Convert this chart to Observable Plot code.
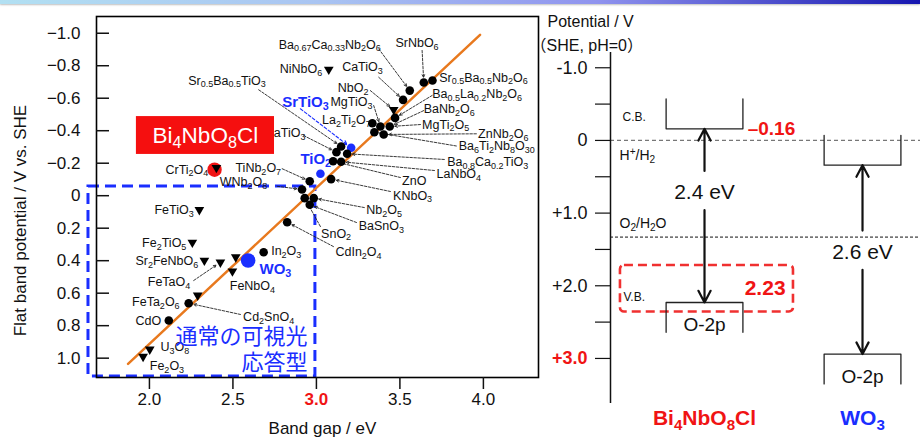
<!DOCTYPE html>
<html>
<head>
<meta charset="utf-8">
<script src="https://cdn.jsdelivr.net/npm/d3@7"></script>
<script src="https://cdn.jsdelivr.net/npm/@observablehq/plot@0.6"></script>
<style>
  body { margin: 0; background: #fff; }
  #wrap { position: relative; width: 920px; height: 441px; overflow: hidden; background: #fff; }
  #band { position: absolute; left: 0; top: 0; width: 920px; height: 4px; z-index: 5;
          background: linear-gradient(to right, #b2e0f2 0%, #a9c4f2 35%, #8f93ee 65%, #1616b0 100%);
          box-shadow: 0 1px 2px rgba(0,0,0,0.25); }
  #left { position: absolute; left: 0; top: 0; }
  #right { position: absolute; left: 520px; top: 0; }
  svg { overflow: visible; }
</style>
</head>
<body>
<div id="wrap">
  <div id="band"></div>
  <div id="left"></div>
  <div id="right"></div>
</div>
<script>
const FONT = "Arial, 'Liberation Sans', Helvetica, 'Noto Sans CJK JP', sans-serif";
const BLUE = "#1a2eff";
const RED = "#f01414";

// ---- Left panel: flat band potential (V vs. SHE) vs. band gap (eV) ----
// [name, band gap / eV, flat band potential / V]
const circles = [
  ["Ba0.67Ca0.33Nb2O6", 3.559, -0.647],
  ["SrNbO6", 3.643, -0.697],
  ["Sr0.5Ba0.5Nb2O6", 3.695, -0.709],
  ["CaTiO3", 3.519, -0.590],
  ["Ba0.5La0.2Nb2O6", 3.471, -0.479],
  ["La2Ti2O7", 3.335, -0.446],
  ["MgTiO3", 3.383, -0.426],
  ["MgTi2O5", 3.439, -0.426],
  ["Ba6Ti2Nb8O30", 3.347, -0.391],
  ["ZnNb2O6", 3.403, -0.377],
  ["Sr0.5Ba0.5TiO3", 3.148, -0.303],
  ["BaTiO3", 3.120, -0.268],
  ["Ba0.8Ca0.2TiO3", 3.184, -0.258],
  ["ZnO", 3.100, -0.212],
  ["LaNbO4", 3.148, -0.209],
  ["KNbO3", 3.088, -0.102],
  ["TiNb2O7", 2.960, -0.089],
  ["WNb2O8", 2.914, -0.038],
  ["SnO2", 2.930, 0.015],
  ["Nb2O5", 2.984, 0.015],
  ["BaSnO3", 2.960, 0.056],
  ["CdIn2O4", 2.825, 0.163],
  ["In2O3", 2.684, 0.348],
  ["Cd2SnO4", 2.235, 0.662],
  ["CdO", 2.116, 0.768]
];
const triangles = [
  ["NiNbO6", 3.074, -0.777],
  ["NbO2", 3.463, -0.529],
  ["CrTi2O4", 2.401, -0.172],
  ["FeTiO3", 2.299, 0.087],
  ["Fe2TiO5", 2.257, 0.288],
  ["Sr2FeNbO6", 2.329, 0.399],
  ["FeTaO4", 2.425, 0.410],
  ["", 2.517, 0.378],
  ["FeNbO4", 2.497, 0.465],
  ["FeTa2O6", 2.289, 0.613],
  ["U3O8", 2.002, 0.946],
  ["Fe2O3", 1.962, 0.990]
];
// [name, band gap, flat band potential, colour, radius]
const highlights = [
  ["SrTiO3", 3.208, -0.295, BLUE, 4.3],
  ["TiO2", 3.024, -0.135, BLUE, 4.3],
  ["WO3", 2.591, 0.399, BLUE, 7.3],
  ["Bi4NbO8Cl", 2.39, -0.16, RED, 7.2]
];
// linear trend of flat band potential against band gap
const trendGap = [1.872, 3.98];
const trendFlat = [1.035, -0.99];

// label text, label anchor (gap, potential)
const labels = [
  ["Ba_{0.67}Ca_{0.33}Nb_{2}O_{6}", 2.774, -0.930],
  ["SrNbO_{6}", 3.473, -0.938],
  ["Sr_{0.5}Ba_{0.5}Nb_{2}O_{6}", 3.735, -0.726],
  ["NiNbO_{6}", 2.780, -0.777],
  ["CaTiO_{3}", 3.154, -0.791],
  ["NbO_{2}", 3.128, -0.662],
  ["Ba_{0.5}La_{0.2}Nb_{2}O_{6}", 3.693, -0.627],
  ["BaNb_{2}O_{6}", 3.643, -0.535],
  ["MgTiO_{3}", 3.084, -0.575],
  ["La_{2}Ti_{2}O_{7}", 3.034, -0.463],
  ["MgTi_{2}O_{5}", 3.633, -0.438],
  ["ZnNb_{2}O_{6}", 3.968, -0.381],
  ["Ba_{6}Ti_{2}Nb_{8}O_{30}", 3.852, -0.306],
  ["Ba_{0.8}Ca_{0.2}TiO_{3}", 3.783, -0.206],
  ["LaNbO_{4}", 3.719, -0.135],
  ["ZnO", 3.513, -0.089],
  ["KNbO_{3}", 3.459, -0.001],
  ["Nb_{2}O_{5}", 3.299, 0.090],
  ["BaSnO_{3}", 3.253, 0.189],
  ["SnO_{2}", 3.028, 0.234],
  ["CdIn_{2}O_{4}", 3.114, 0.348],
  ["In_{2}O_{3}", 2.729, 0.341],
  ["TiNb_{2}O_{7}", 2.515, -0.172],
  ["WNb_{2}O_{8}", 2.421, -0.084],
  ["CrTi_{2}O_{4}", 2.096, -0.161],
  ["BaTiO_{3}", 2.695, -0.385],
  ["Sr_{0.5}Ba_{0.5}TiO_{3}", 2.232, -0.709],
  ["FeTiO_{3}", 2.030, 0.090],
  ["Fe_{2}TiO_{5}", 1.956, 0.292],
  ["Sr_{2}FeNbO_{6}", 1.916, 0.402],
  ["FeTaO_{4}", 1.990, 0.532],
  ["FeNbO_{4}", 2.481, 0.558],
  ["FeTa_{2}O_{6}", 1.896, 0.655],
  ["Cd_{2}SnO_{4}", 2.561, 0.748],
  ["CdO", 1.916, 0.772],
  ["U_{3}O_{8}", 2.066, 0.932],
  ["Fe_{2}O_{3}", 2.002, 1.051]
];
const blueLabels = [
  ["SrTiO_{3}", 2.795, -0.575],
  ["TiO_{2}", 2.904, -0.227],
  ["WO_{3}", 2.659, 0.450]
];
// leader start (gap, potential) and the compound it points at
const leaders = [
  [3.373, -0.904, "Ba0.67Ca0.33Nb2O6"],
  [3.633, -0.894, "SrNbO6"],
  [3.373, -0.729, "CaTiO3"],
  [3.323, -0.647, "NbO2"],
  [3.693, -0.617, "Ba0.5La0.2Nb2O6"],
  [3.643, -0.524, "MgTi2O5"],
  [3.343, -0.555, "MgTiO3"],
  [3.623, -0.438, "MgTi2O5"],
  [3.958, -0.381, "ZnNb2O6"],
  [3.838, -0.306, "Ba6Ti2Nb8O30"],
  [3.766, -0.223, "Ba0.8Ca0.2TiO3"],
  [3.707, -0.155, "LaNbO4"],
  [3.503, -0.112, "ZnO"],
  [3.443, -0.026, "KNbO3"],
  [3.287, 0.073, "Nb2O5"],
  [3.240, 0.165, "BaSnO3"],
  [3.024, 0.190, "SnO2"],
  [3.102, 0.313, "CdIn2O4"],
  [2.795, -0.166, "TiNb2O7"],
  [2.765, -0.058, "WNb2O8"],
  [2.924, -0.370, "BaTiO3"],
  [2.654, -0.652, "Sr0.5Ba0.5TiO3"],
  [2.265, 0.522, "FeTaO4"],
  [2.545, 0.731, "Cd2SnO4"]
];
const blueLeaders = [[2.904, -0.535, "SrTiO3"]];

const xTicks = [2.0, 2.5, 3.0, 3.5, 4.0];
const yTicks = [-1.0, -0.8, -0.6, -0.4, -0.2, 0, 0.2, 0.4, 0.6, 0.8, 1.0];

// visible-light region box and highlighted compound tag
const visibleBox = [{x1: 1.635, x2: 2.994, y1: -0.057, y2: 1.113}];
const tagBox = [{x1: 1.922, x2: 2.749, y1: -0.487, y2: -0.254}];
const tagText = [{t: "Bi_{4}NbO_{8}Cl", x: 2.335, y: -0.370}];
const regionText = [{t: "通常の可視光\n応答型", x: 2.946, y: 0.942}];

const pointIndex = new Map([...circles, ...triangles, ...highlights].map(d => [d[0], d]));
const toLeader = ([x, y, name]) => ({x1: x, y1: y, x2: pointIndex.get(name)[1], y2: pointIndex.get(name)[2]});
const fmtY = d => d === 0 ? "0" : (d < 0 ? "\u2212" : "") + Math.abs(d).toFixed(1);

const leftPlot = Plot.plot({
  width: 540, height: 441,
  marginLeft: 96, marginRight: 2, marginTop: 16, marginBottom: 64,
  x: {domain: [1.683, 4.33]},
  y: {domain: [-1.103, 1.119], reverse: true},
  r: {type: "identity"},
  style: {fontFamily: FONT, fontSize: "12.5px", background: "transparent", color: "#111"},
  marks: [
    Plot.rect(visibleBox, {x1: "x1", x2: "x2", y1: "y1", y2: "y2", fill: "none", stroke: BLUE, strokeWidth: 3, strokeDasharray: "11,6"}),
    Plot.line(trendGap.map((g, i) => ({g, f: trendFlat[i]})), {x: "g", y: "f", stroke: "#e8791e", strokeWidth: 2.5}),
    Plot.arrow(leaders.map(toLeader), {x1: "x1", y1: "y1", x2: "x2", y2: "y2", stroke: "#222", strokeWidth: 0.9, strokeDasharray: "2.5,1.5", headLength: 5, headAngle: 50, insetEnd: 5}),
    Plot.arrow(blueLeaders.map(toLeader), {x1: "x1", y1: "y1", x2: "x2", y2: "y2", stroke: BLUE, strokeWidth: 1.1, strokeDasharray: "3,2", headLength: 6, headAngle: 50, insetEnd: 5}),
    Plot.text(labels, {x: d => d[1], y: d => d[2], text: d => d[0], textAnchor: "start", fill: "#111"}),
    Plot.text(blueLabels, {x: d => d[1], y: d => d[2], text: d => d[0], textAnchor: "start", fill: BLUE, fontWeight: "bold", fontSize: 15}),
    Plot.rect(tagBox, {x1: "x1", x2: "x2", y1: "y1", y2: "y2", fill: "#f50f0f"}),
    Plot.text(tagText, {x: "x", y: "y", text: "t", fill: "white", fontSize: 22.5}),
    Plot.dot(highlights, {x: d => d[1], y: d => d[2], r: d => d[4], fill: d => d[3], stroke: null}),
    Plot.dot(circles, {x: d => d[1], y: d => d[2], r: 4.3, fill: "#000"}),
    Plot.dot(triangles, {x: d => d[1], y: d => d[2], symbol: "triangle", rotate: 180, r: 3.6, fill: "#000"}),
    Plot.text(regionText, {x: "x", y: "y", text: "t", textAnchor: "end", fill: BLUE, fontSize: 22, lineHeight: 1.2, fontFamily: "'Noto Sans CJK JP', sans-serif"}),
    Plot.frame({stroke: "#000", strokeWidth: 1.6}),
    Plot.axisX({ticks: xTicks, tickSize: 12, tickPadding: 3, tickFormat: d => d.toFixed(1), fontSize: 17, strokeWidth: 1.5, label: null}),
    Plot.axisY({ticks: yTicks, tickSize: 13, dx: 13, tickFormat: () => "", strokeWidth: 1.5, label: null}),
    Plot.axisY({ticks: yTicks, tickSize: 0, tickPadding: 16, tickFormat: fmtY, fontSize: 17, label: null}),
    Plot.text([{t: "Flat band potential / V vs. SHE", y: 0.153}], {y: "y", text: "t", frameAnchor: "left", textAnchor: "middle", dx: -76, rotate: -90, fontSize: 17}),
    Plot.text([{t: "Band gap / eV", x: 3.036}], {x: "x", text: "t", frameAnchor: "bottom", textAnchor: "middle", dy: 56, fontSize: 17})
  ]
});

// ---- Right panel: band positions on the potential scale ----
const materials = ["Bi_{4}NbO_{8}Cl", "WO_{3}"];
const materialX = [1, 2];
const cbPotential = [-0.16, 0.34];
const vbPotential = [2.23, 2.94];
const gapText = ["2.4 eV", "2.6 eV"];
const gapTextY = [0.72, 1.54];
const materialColor = [RED, BLUE];
const potTicks = [-1, -0.5, 0, 0.5, 1, 1.5, 2, 2.5, 3];
const redoxLevels = [0, 1.33];

const halfW = 0.243;   // half width of a band box, in column units
const depth = 0.41;    // height of band box walls, V
const boxLines = [];
materialX.forEach((c, i) => {
  const cb = cbPotential[i], vb = vbPotential[i];
  [[c - halfW, cb - depth], [c - halfW, cb], [c + halfW, cb], [c + halfW, cb - depth]]
    .forEach(([x, y]) => boxLines.push({x, y, k: "cb" + i}));
  [[c - halfW, vb + depth], [c - halfW, vb], [c + halfW, vb], [c + halfW, vb + depth]]
    .forEach(([x, y]) => boxLines.push({x, y, k: "vb" + i}));
});
const gapArrows = materialX.flatMap((c, i) => [
  {x1: c, x2: c, y1: gapTextY[i] - 0.3, y2: cbPotential[i]},
  {x1: c, x2: c, y1: gapTextY[i] + 0.24, y2: vbPotential[i]}
]);
const fmtPot = d => !Number.isInteger(d) ? "" : d === 0 ? "0" : (d > 0 ? "+" : "-") + Math.abs(d).toFixed(1);
const X0 = 0.405, X1 = 2.367;

const rightPlot = Plot.plot({
  width: 400, height: 441,
  marginLeft: 90, marginRight: 0, marginTop: 52, marginBottom: 38,
  x: {domain: [X0, X1], axis: null},
  y: {domain: [-1.21, 3.62], reverse: true},
  style: {fontFamily: FONT, fontSize: "14px", background: "transparent", color: "#111"},
  marks: [
    Plot.ruleY([redoxLevels[0]], {x1: X0, x2: X1, stroke: "#777", strokeWidth: 1.3, strokeDasharray: "4,3"}),
    Plot.ruleY([redoxLevels[1]], {x1: X0, x2: X1, stroke: "#111", strokeWidth: 1, strokeDasharray: "3,2"}),
    Plot.ruleX([X0], {stroke: "#111", strokeWidth: 1.5}),
    Plot.axisY({ticks: potTicks, tickSize: 15, tickPadding: 8, tickFormat: fmtPot, fontSize: 18, strokeWidth: 1.2, label: null}),
    Plot.rect([{x1: 0.468, x2: 1.563, y1: 1.72, y2: 2.36}], {x1: "x1", x2: "x2", y1: "y1", y2: "y2", fill: "none", stroke: "#f03030", strokeWidth: 2.6, strokeDasharray: "9,5", rx: 4}),
    Plot.line(boxLines, {x: "x", y: "y", z: "k", stroke: "#222", strokeWidth: 1.3}),
    Plot.arrow(gapArrows, {x1: "x1", y1: "y1", x2: "x2", y2: "y2", stroke: "#111", strokeWidth: 2.2, headLength: 9, headAngle: 55}),
    Plot.text(materialX, {x: d => d, y: (d, i) => gapTextY[i], text: (d, i) => gapText[i], fontSize: 21}),
    Plot.text(materialX, {x: d => d, y: (d, i) => vbPotential[i] + 0.31, text: () => "O-2p", fontSize: 19}),
    Plot.text(materialX, {x: d => d, y: 3.826, text: (d, i) => materials[i], fill: (d, i) => materialColor[i], fontWeight: "bold", fontSize: 21}),
    Plot.text([cbPotential[0]], {x: materialX[0] + halfW + 0.03, y: d => d, text: d => "\u2013" + Math.abs(d).toFixed(2), textAnchor: "start", fill: RED, fontWeight: "bold", fontSize: 19}),
    Plot.text([vbPotential[0]], {x: 1.513, y: d => d - 0.19, text: d => d.toFixed(2), textAnchor: "end", fill: RED, fontWeight: "bold", fontSize: 21}),
    Plot.text([{t: "C.B.", x: 0.481, y: -0.316}, {t: "V.B.", x: 0.487, y: 2.156}], {x: "x", y: "y", text: "t", textAnchor: "start", fontSize: 12}),
    Plot.text([{t: "H^{+}/H_{2}", x: 0.462, y: 0.206}, {t: "O_{2}/H_{2}O", x: 0.462, y: 1.142}], {x: "x", y: "y", text: "t", textAnchor: "start", fontSize: 14}),
    Plot.text([{t: "Potential / V"}], {text: "t", frameAnchor: "top-left", dx: -63, dy: -37, textAnchor: "start", fontSize: 16}),
    Plot.text([{t: "（SHE, pH=0）"}], {text: "t", frameAnchor: "top-left", dx: -80, dy: -13, textAnchor: "start", fontSize: 16})
  ]
});

document.getElementById("left").append(leftPlot);
document.getElementById("right").append(rightPlot);

// render _{..} as subscripts and ^{..} as superscripts
function richText(svg) {
  for (const t of svg.querySelectorAll("text")) {
    const s = t.textContent;
    if (!/[_^]\{/.test(s) || t.querySelector("tspan")) continue;
    const fs = parseFloat(getComputedStyle(t).fontSize);
    t.textContent = "";
    let shift = 0;
    for (const part of s.split(/([_^]\{[^}]*\})/)) {
      if (!part) continue;
      const m = part.match(/^([_^])\{([^}]*)\}$/);
      const ts = document.createElementNS(t.namespaceURI, "tspan");
      const target = m ? (m[1] === "_" ? 0.22 * fs : -0.38 * fs) : 0;
      if (target - shift !== 0) ts.setAttribute("dy", (target - shift).toFixed(2));
      shift = target;
      if (m) { ts.setAttribute("font-size", (0.72 * fs).toFixed(2)); ts.textContent = m[2]; }
      else ts.textContent = part;
      t.appendChild(ts);
    }
  }
}
richText(leftPlot);
richText(rightPlot);

// emphasise the 3.0 eV and +3.0 V limits
for (const t of leftPlot.querySelectorAll('g[aria-label="x-axis tick label"] text')) {
  if (t.textContent === "3.0") { t.setAttribute("fill", RED); t.setAttribute("font-weight", "bold"); }
}
for (const t of rightPlot.querySelectorAll('g[aria-label="y-axis tick label"] text')) {
  if (t.textContent === "+3.0") { t.setAttribute("fill", RED); t.setAttribute("font-weight", "bold"); }
}
</script>
</body>
</html>
